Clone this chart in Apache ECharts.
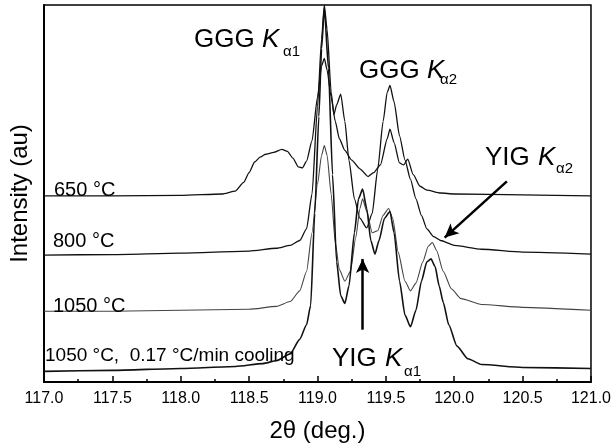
<!DOCTYPE html>
<html>
<head>
    <meta charset="UTF-8">
    <title>XRD</title>
    <script src="https://cdn.jsdelivr.net/npm/echarts@6/dist/echarts.min.js"></script>
</head>
<body style="margin:0">
    <div id="main" style="width: 614px; height: 448px;"></div>
    <script>
        // 2theta (deg.) and offset intensity (au) for each anneal
        var x650 = [117.0, 117.5, 118.0, 118.3, 118.4, 118.46, 118.5, 118.54, 118.58, 118.62, 118.68, 118.74, 118.78, 118.82, 118.86, 118.89, 118.92, 118.96, 119.0, 119.03, 119.05, 119.07, 119.1, 119.13, 119.16, 119.2, 119.25, 119.31, 119.37, 119.41, 119.46, 119.51, 119.53, 119.56, 119.6, 119.63, 119.66, 119.7, 119.75, 119.8, 119.9, 120.0, 120.5, 121.0];
        var y650 = [192, 192, 192.5, 194, 197, 206, 216, 227, 232, 235, 237, 240, 238, 231, 222, 221, 228, 249, 294, 326, 334, 322, 294, 269, 251, 239, 229, 220, 212, 216, 224, 251, 261, 247, 226, 224, 230, 214, 202, 198, 195, 194, 193, 192];

        var x800 = [117.0, 117.5, 118.0, 118.5, 118.7, 118.8, 118.87, 118.92, 118.96, 119.0, 119.03, 119.05, 119.07, 119.1, 119.12, 119.14, 119.17, 119.2, 119.23, 119.27, 119.31, 119.36, 119.4, 119.44, 119.48, 119.51, 119.53, 119.56, 119.6, 119.64, 119.68, 119.72, 119.76, 119.8, 119.85, 119.9, 120.0, 120.2, 120.5, 121.0];
        var y800 = [131, 131.5, 133, 135, 138, 141, 146, 158, 194, 284, 354, 389, 364, 299, 276, 286, 297, 269, 229, 189, 169, 159, 174, 219, 269, 299, 306, 289, 254, 229, 209, 189, 172, 158, 150, 146, 141, 137, 134, 132];

        var x1050 = [117.0, 117.5, 118.0, 118.5, 118.7, 118.8, 118.87, 118.92, 118.96, 119.0, 119.03, 119.05, 119.07, 119.1, 119.13, 119.16, 119.2, 119.24, 119.28, 119.31, 119.33, 119.36, 119.4, 119.44, 119.48, 119.52, 119.55, 119.59, 119.64, 119.68, 119.72, 119.77, 119.81, 119.84, 119.87, 119.92, 119.98, 120.05, 120.2, 120.5, 121.0];
        var y1050 = [73, 73, 74, 75, 78, 83, 94, 114, 154, 204, 234, 244, 234, 194, 144, 116, 104, 114, 149, 179, 189, 176, 154, 156, 172, 179, 169, 134, 104, 94, 102, 124, 140, 144, 136, 114, 96, 86, 80, 77, 74];

        var xSlow = [117.0, 117.5, 118.0, 118.4, 118.6, 118.7, 118.8, 118.87, 118.92, 118.95, 118.98, 119.01, 119.03, 119.05, 119.08, 119.11, 119.14, 119.17, 119.2, 119.23, 119.27, 119.3, 119.33, 119.36, 119.39, 119.42, 119.45, 119.49, 119.53, 119.56, 119.6, 119.64, 119.68, 119.72, 119.76, 119.8, 119.83, 119.86, 119.89, 119.92, 119.96, 120.02, 120.1, 120.2, 120.5, 121.0];
        var ySlow = [11, 12, 14, 16, 19, 22, 29, 44, 59, 79, 174, 274, 344, 386, 324, 214, 124, 89, 81, 99, 154, 189, 199, 179, 146, 132, 146, 169, 176, 154, 104, 69, 57, 74, 104, 124, 127, 119, 99, 82, 59, 37, 24, 18, 15, 14];

        var xTicks = [117.0, 117.5, 118.0, 118.5, 119.0, 119.5, 120.0, 120.5, 121.0];

        function pairs(xs, ys) {
            return xs.map(function (v, i) { return [v, ys[i]]; });
        }

        var font = "'Liberation Sans', Arial, sans-serif";
        var myChart = echarts.init(document.getElementById('main'));

        function line(name, xs, ys, w, c) {
            return {
                name: name,
                type: 'line',
                data: pairs(xs, ys),
                showSymbol: false,
                smooth: 0.2,
                smoothMonotone: 'x',
                lineStyle: { color: c, width: w },
                z: 3
            };
        }

        var slow = line('slow', xSlow, ySlow, 1.6, '#111');
        // arrows (YIG K-alpha2 and K-alpha1)
        slow.markLine = {
            silent: true,
            symbol: ['none', 'arrow'],
            symbolSize: [10, 14],
            label: { show: false },
            lineStyle: { color: '#000', width: 2.5, type: 'solid' },
            data: [
                [{ coord: [120.385, 207] }, { coord: [119.93, 149] }],
                [{ coord: [119.33, 54] }, { coord: [119.33, 127] }]
            ]
        };

        function txt(s, x, y, size, italic) {
            return {
                type: 'text', x: x, y: y, z: 10,
                style: {
                    text: s, fill: '#000', verticalAlign: 'middle',
                    font: (italic ? 'italic ' : '') + size + 'px ' + font
                }
            };
        }

        var option = {
            animation: false,
            backgroundColor: '#fff',
            grid: { left: 40, right: 21, top: 5, bottom: 54, show: true, borderColor: '#000', borderWidth: 1.5 },
            xAxis: {
                type: 'value', min: 117, max: 121, interval: 0.5,
                name: '2θ (deg.)', nameLocation: 'middle', nameGap: 37,
                nameTextStyle: { fontSize: 24, color: '#000', fontFamily: font },
                axisLine: { lineStyle: { color: '#000', width: 2 } },
                axisTick: { inside: true, length: 6, lineStyle: { color: '#000', width: 1.5 } },
                minorTick: { show: true, splitNumber: 2, length: 3, lineStyle: { color: '#000', width: 1.5 } },
                axisLabel: {
                    color: '#000', fontSize: 16, margin: 9, fontFamily: font,
                    formatter: function (v) { return xTicks.indexOf(v) >= 0 ? v.toFixed(1) : ''; }
                },
                splitLine: { show: false }
            },
            yAxis: {
                type: 'value', min: 0, max: 389,
                name: 'Intensity (au)', nameLocation: 'middle', nameGap: 12,
                nameTextStyle: { fontSize: 24, color: '#000', fontFamily: font },
                axisLine: { show: true, lineStyle: { color: '#000', width: 2 } },
                axisTick: { show: false },
                axisLabel: { show: false },
                splitLine: { show: false }
            },
            series: [
                line('650', x650, y650, 1.3, '#111'),
                line('800', x800, y800, 1.3, '#111'),
                line('1050', x1050, y1050, 1.1, '#444'),
                slow
            ],
            graphic: [
                txt('GGG ', 194, 40, 26), txt('K', 262, 40, 26, true), txt('α1', 283, 52, 15),
                txt('GGG ', 359, 71, 26), txt('K', 427, 71, 26, true), txt('α2', 440, 80, 15),
                txt('YIG ', 485, 158, 26), txt('K', 538, 158, 26, true), txt('α2', 556, 169, 15),
                txt('YIG ', 332, 359, 26), txt('K', 385, 359, 26, true), txt('α1', 404, 372, 15),
                txt('650 °C', 54, 190, 20),
                txt('800 °C', 53, 241, 20),
                txt('1050 °C', 53, 306, 20),
                txt('1050 °C,  0.17 °C/min cooling', 45, 356, 19)
            ]
        };
        myChart.setOption(option);
    </script>
</body>
</html>
